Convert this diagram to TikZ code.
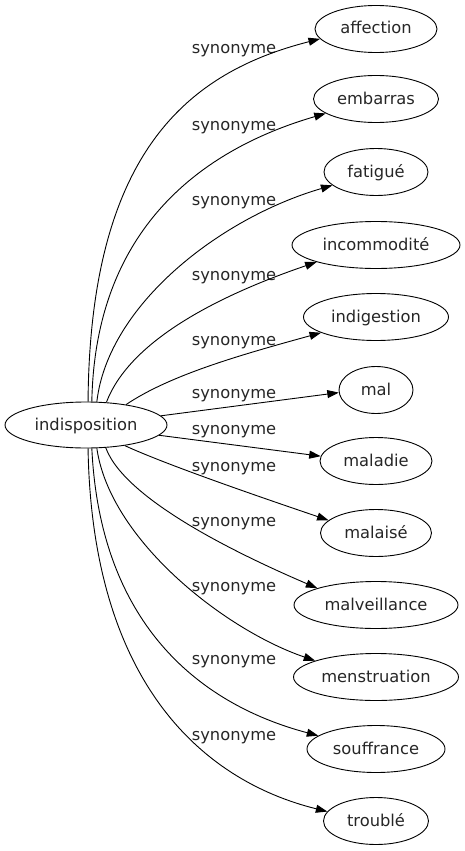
\documentclass[tikz,border=0pt]{standalone}
\usepackage{fontspec}
\setmainfont{DejaVu Sans}
\usetikzlibrary{arrows.meta,shapes.geometric}
\begin{document}
\begin{tikzpicture}[x=1pt,y=-1pt,
  every node/.style={font=\fontsize{16.3}{19}\selectfont, text=black!85},
  ent/.style={ellipse, draw=black, line width=0.9pt, inner sep=0pt, minimum height=47pt,
    text height=12.5pt, text depth=2.5pt},
  lab/.style={anchor=base, inner sep=0pt},
  syn/.style={draw, line width=0.9pt, -{Triangle[length=11.5pt,width=8pt]}}]
\useasboundingbox (0,0) rectangle (465,851);
% nodes
\node[ent, minimum width=162pt, minimum height=46pt] (src) at (86,425) {indisposition};
\node[ent, minimum width=122pt] (affection) at (376,29) {affection};
\node[ent, minimum width=125pt] (embarras) at (376,99) {embarras};
\node[ent, minimum width=104pt] (fatigue) at (376,172) {fatigué};
\node[ent, minimum width=168pt] (incommodite) at (376,245) {incommodité};
\node[ent, minimum width=145pt] (indigestion) at (376,317) {indigestion};
\node[ent, minimum width=74pt] (mal) at (376,390) {mal};
\node[ent, minimum width=112pt] (maladie) at (376,461) {maladie};
\node[ent, minimum width=111pt] (malaise) at (376,533) {malaisé};
\node[ent, minimum width=164pt] (malveillance) at (376,605) {malveillance};
\node[ent, minimum width=165pt] (menstruation) at (376,677) {menstruation};
\node[ent, minimum width=138pt] (souffrance) at (376,749) {souffrance};
\node[ent, minimum width=105pt] (trouble) at (376,821) {troublé};
% labels
\node[lab] (l1) at (234,53.3) {synonyme};
\node[lab] (l2) at (234,130) {synonyme};
\node[lab] (l3) at (234,205) {synonyme};
\node[lab] (l4) at (234,280) {synonyme};
\node[lab] (l5) at (234,345) {synonyme};
\node[lab] (l6) at (234,398) {synonyme};
\node[lab] (l7) at (234,434) {synonyme};
\node[lab] (l8) at (234,471.5) {synonyme};
\node[lab] (l9) at (234,526.5) {synonyme};
\node[lab] (l10) at (234,591) {synonyme};
\node[lab] (l11) at (234,664.5) {synonyme};
\node[lab] (l12) at (234,740.5) {synonyme};
% edges
\draw[syn] (src.85) .. controls (90,150) and (190,72) .. (affection.190);
\draw[syn] (src.76) .. controls (95,230) and (200,150) .. (embarras.196);
\draw[syn] (src.65) .. controls (108,305) and (220,218) .. (fatigue.197);
\draw[syn] (src.48) .. controls (130,340) and (220,295) .. (incommodite.196);
\draw[syn] (src.27) .. controls (170,375) and (240,355) .. (indigestion.196);
\draw[syn] (src.7) -- (mal.184);
\draw[syn] (src.-8) -- (maladie.175);
\draw[syn] (src.-28) .. controls (167,465) and (260,497) .. (malaise.165);
\draw[syn] (src.-49) .. controls (125,500) and (240,555) .. (malveillance.164);
\draw[syn] (src.-65) .. controls (110,540) and (225,630) .. (menstruation.165);
\draw[syn] (src.-76) .. controls (100,620) and (195,703) .. (souffrance.167);
\draw[syn] (src.-85) .. controls (92,680) and (200,780) .. (trouble.169);
\end{tikzpicture}
\end{document}
